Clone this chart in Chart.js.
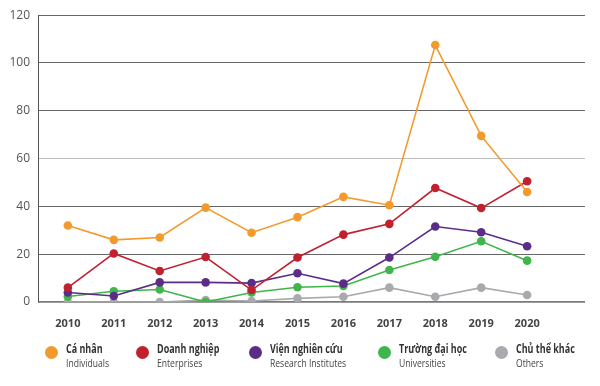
<!DOCTYPE html>
<html>
<head>
<meta charset="utf-8">
<script src="https://cdn.jsdelivr.net/npm/chart.js@4"></script>
<style>
  body { margin: 0; background: #fff; }
  #wrap { position: relative; width: 600px; height: 386px; }
  #legend { position: absolute; left: 0; top: 343px; width: 600px; height: 40px;
    font-family: "Open Sans", "DejaVu Sans", sans-serif; }
  .item { position: absolute; top: 4px; }
  .dot { position: absolute; left: -7px; top: -1px; width: 13px; height: 13px; border-radius: 50%; }
  .txt { position: absolute; left: 0; white-space: nowrap; transform: scaleX(0.78); transform-origin: left top; }
  .vi { font-weight: bold; font-size: 11.5px; color: #333; line-height: 14px; }
  .en { font-size: 11px; color: #444; line-height: 14px; }
</style>
</head>
<body>
<div id="wrap">
  <canvas id="lineChart" width="600" height="386"></canvas>
  <div id="legend"></div>
</div>
<script>
// Data
const years = [2010, 2011, 2012, 2013, 2014, 2015, 2016, 2017, 2018, 2019, 2020];
const caNhan     = [32, 26, 27, 39.5, 29, 35.5, 44, 40.5, 107.5, 69.5, 46];
const doanhNghiep = [6, 20.3, 13, 18.8, 5, 18.6, 28.2, 32.7, 47.7, 39.3, 50.5];
const vienNghienCuu = [4, 2.5, 8.2, 8.2, 7.9, 12, 7.7, 18.6, 31.6, 29.2, 23.3];
const truongDaiHoc = [2.3, 4.5, 5.2, 0, 4, 6.2, 6.7, 13.4, 18.9, 25.4, 17.3];
const chuTheKhac  = [0, 0, 0, 0.8, 0.4, 1.5, 2.2, 6, 2.2, 6, 2.9];
const yTicks = [0, 20, 40, 60, 80, 100, 120];

const seriesNames = [
    ['Cá nhân', 'Individuals'],
    ['Doanh nghiệp', 'Enterprises'],
    ['Viện nghiên cứu', 'Research Institutes'],
    ['Trường đại học', 'Universities'],
    ['Chủ thể khác', 'Others']
];
const seriesData = [caNhan, doanhNghiep, vienNghienCuu, truongDaiHoc, chuTheKhac];
const colors = ['#f39a2c', '#c1212f', '#5c2d88', '#3fb54b', '#a9aaad'];
const legendX = [52, 143, 256, 385, 502];

const toPoints = arr => arr.map((v, i) => ({ x: years[i], y: v }));

// draw order: last dataset is painted first, so orange/red stay on top
const datasets = seriesData.map((arr, i) => ({
    label: seriesNames[i][0],
    data: toPoints(arr),
    borderColor: colors[i],
    backgroundColor: colors[i],
    borderWidth: 1.6,
    pointRadius: 4.3,
    pointBorderWidth: 0,
    tension: 0,
    order: i
}));

const ctx = document.getElementById('lineChart').getContext('2d');
new Chart(ctx, {
    type: 'line',
    data: { datasets: datasets },
    options: {
        responsive: false,
        animation: false,
        layout: { padding: { left: 0, right: 15, top: 10, bottom: 0 } },
        plugins: {
            legend: { display: false },
            tooltip: { enabled: false }
        },
        scales: {
            x: {
                type: 'linear',
                min: 2009.35,
                max: 2021.26,
                afterBuildTicks: scale => { scale.ticks = years.map(v => ({ value: v })); },
                afterFit: scale => { scale.height = 84; },
                grid: { display: false, drawTicks: false },
                border: { display: false },
                ticks: {
                    padding: 15,
                    color: '#444',
                    font: { family: '"Open Sans", "DejaVu Sans", sans-serif', size: 11, weight: 'bold' },
                    callback: v => String(v)
                }
            },
            y: {
                min: 0,
                max: 120,
                afterBuildTicks: scale => { scale.ticks = yTicks.map(v => ({ value: v })); },
                afterFit: scale => { scale.width = 38; },
                grid: {
                    drawTicks: false,
                    lineWidth: ctx => ctx.tick && ctx.tick.value === 0 ? 1.8 : 1,
                    color: ctx => {
                        if (!ctx.tick) return '#666';
                        if (ctx.tick.value === 0) return '#7a7a7a';
                        if (ctx.tick.value === 60) return '#bdbdbd';
                        return '#666';
                    }
                },
                border: { display: true, color: '#555', width: 1 },
                ticks: {
                    padding: 8,
                    color: '#555',
                    font: { family: '"Open Sans", "DejaVu Sans", sans-serif', size: 12 }
                }
            }
        }
    }
});

// legend with Vietnamese / English two-line labels
const legend = document.getElementById('legend');
seriesNames.forEach((names, i) => {
    const item = document.createElement('div');
    item.className = 'item';
    item.style.left = legendX[i] + 'px';
    item.innerHTML =
        '<div class="dot" style="background:' + colors[i] + '"></div>' +
        '<div class="txt" style="left:14px;top:-5px"><div class="vi">' + names[0] + '</div>' +
        '<div class="en">' + names[1] + '</div></div>';
    legend.appendChild(item);
});
</script>
</body>
</html>
